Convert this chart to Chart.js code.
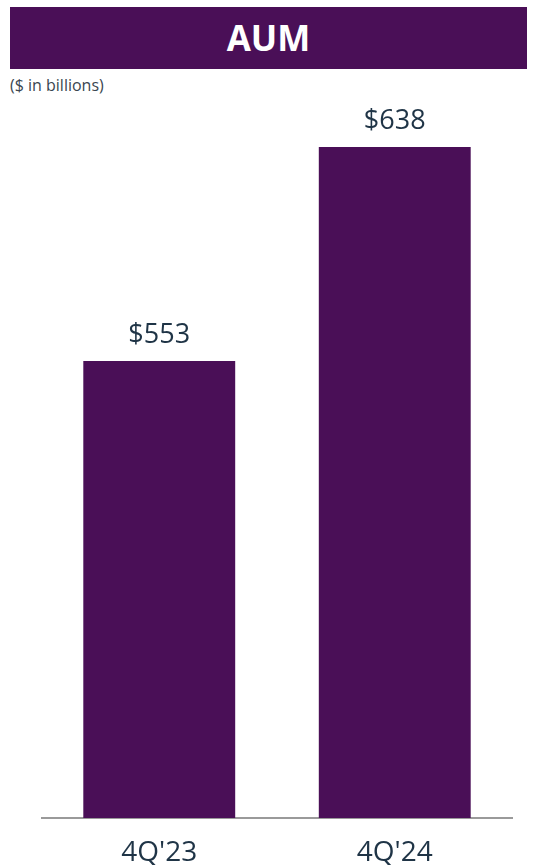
<!DOCTYPE html>
<html lang="en">

<head>
    <meta charset="UTF-8" />
    <title>AUM</title>
    <script src="https://cdn.jsdelivr.net/npm/chart.js"></script>
    <style>
        body { margin: 0; background: #fff; font-family: 'Open Sans', sans-serif; overflow: hidden; }
        #wrap { position: relative; width: 537px; height: 865px; overflow: hidden; }
        #title {
            position: absolute; left: 10px; top: 7px; width: 517px; height: 62px;
            background: #4a0f57; color: #fff; font-weight: 700; font-size: 35px;
            line-height: 62px; text-align: center;
        }
        #unit { position: absolute; left: 10px; top: 74px; font-size: 16px; color: #3a4650; }
        canvas { position: absolute; left: 0; top: 0; }
    </style>
</head>

<body>
    <div id="wrap">
        <div id="title">AUM</div>
        <div id="unit">($ in billions)</div>
        <canvas id="aumChart" width="537" height="888"></canvas>
    </div>

    <script>
        const quarters = ["4Q'23", "4Q'24"];
        const aum = [553, 638];

        const purple = '#4a0f57';
        const textColor = '#1f3446';

        // value labels above each bar
        const valueLabels = {
            id: 'valueLabels',
            afterDatasetsDraw(chart) {
                const ctx = chart.ctx;
                const meta = chart.getDatasetMeta(0);
                ctx.save();
                ctx.font = '27px "Open Sans"';
                ctx.fillStyle = textColor;
                ctx.textAlign = 'center';
                ctx.textBaseline = 'alphabetic';
                meta.data.forEach((bar, i) => {
                    ctx.fillText('$' + aum[i], bar.x, bar.y - 18);
                });
                ctx.restore();
            }
        };

        const ctx = document.getElementById('aumChart').getContext('2d');
        new Chart(ctx, {
            type: 'bar',
            data: {
                labels: quarters,
                datasets: [{
                    data: aum,
                    backgroundColor: purple,
                    barPercentage: 0.645,
                    categoryPercentage: 1.0,
                }],
            },
            options: {
                responsive: false,
                animation: false,
                layout: {
                    padding: { left: 41.5, right: 24.5, top: 147, bottom: 0 },
                },
                plugins: {
                    legend: { display: false },
                    tooltip: { enabled: false },
                },
                scales: {
                    x: {
                        grid: { display: false, drawTicks: false },
                        border: { display: true, color: '#9a9a9a', width: 2 },
                        ticks: {
                            color: textColor,
                            padding: 21,
                            font: { family: 'Open Sans', size: 28, lineHeight: 1 },
                        },
                    },
                    y: {
                        display: false,
                        min: 371.5,
                        max: 638,
                    },
                },
            },
            plugins: [valueLabels],
        });
    </script>
</body>

</html>
